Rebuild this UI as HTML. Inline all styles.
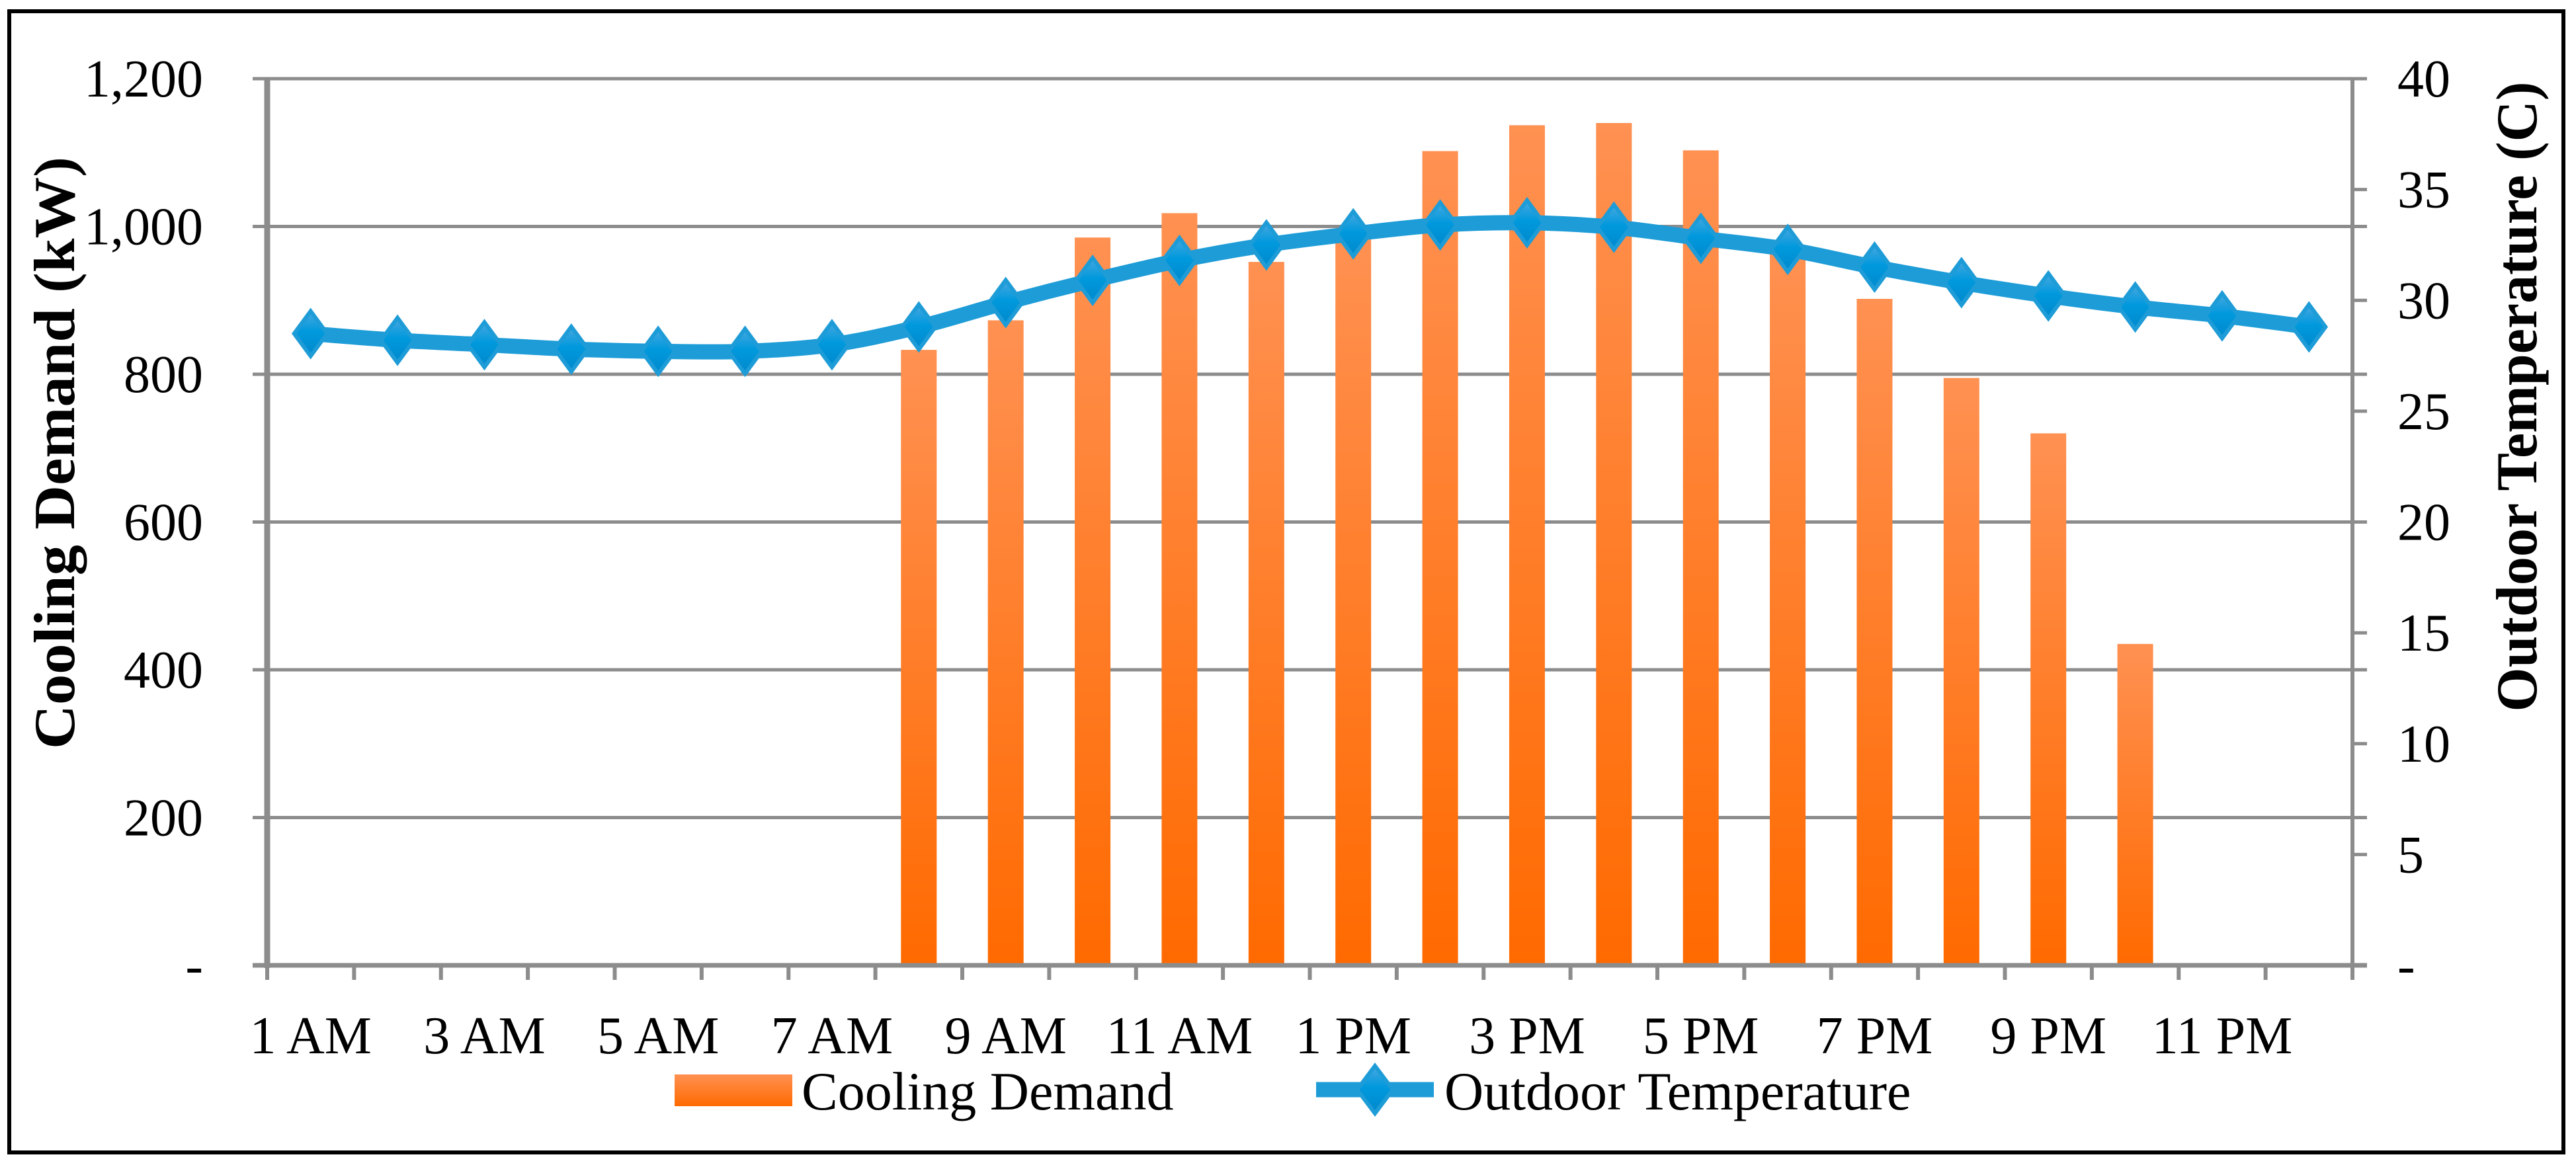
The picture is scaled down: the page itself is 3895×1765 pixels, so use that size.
<!DOCTYPE html>
<html><head><meta charset="utf-8">
<style>
html,body{margin:0;padding:0;background:#fff;}
svg{display:block;font-family:"Liberation Serif",serif;}
</style></head>
<body>
<svg id="chart" width="3895" height="1765" viewBox="0 0 3895 1765" xmlns="http://www.w3.org/2000/svg">
<defs>
<linearGradient id="barGrad" x1="0" y1="0" x2="0" y2="1">
<stop offset="0" stop-color="#ff9152"/><stop offset="1" stop-color="#ff6a00"/>
</linearGradient>
<linearGradient id="diaGrad" x1="0" y1="0" x2="0" y2="1">
<stop offset="0" stop-color="#4aa8e0"/><stop offset="0.45" stop-color="#0099dd"/><stop offset="1" stop-color="#0088cc"/>
</linearGradient>
</defs>
<rect x="14" y="17" width="3862" height="1726" fill="none" stroke="#000" stroke-width="6"/>
<g id="grid"></g>
<g id="bars"></g>
<g id="axes"></g>
<g id="line"></g>
<g id="labels"></g>
<text transform="translate(112,685) rotate(-90)" text-anchor="middle" font-size="88" font-weight="bold" textLength="896" lengthAdjust="spacingAndGlyphs">Cooling Demand (kW)</text>
<text transform="translate(3835,600) rotate(-90)" text-anchor="middle" font-size="88" font-weight="bold" textLength="953" lengthAdjust="spacingAndGlyphs">Outdoor Temperature (C)</text>
<g>
<rect x="1020" y="1625" width="178" height="48" fill="url(#barGrad)"/>
<text x="1212" y="1678" font-size="82">Cooling Demand</text>
<line x1="1990" y1="1648" x2="2168" y2="1648" stroke="#1e9cd7" stroke-width="23"/>
<path d="M2079 1612 L2106 1648 L2079 1684 L2052 1648 Z" fill="url(#diaGrad)" stroke="#1e9cd7" stroke-width="6"/>
<text x="2184" y="1678" font-size="82">Outdoor Temperature</text>
</g>
</svg>
<script>
const categories = ["1 AM","2 AM","3 AM","4 AM","5 AM","6 AM","7 AM","8 AM","9 AM","10 AM","11 AM","12 PM","1 PM","2 PM","3 PM","4 PM","5 PM","6 PM","7 PM","8 PM","9 PM","10 PM","11 PM","12 AM"];
const coolingDemand = [0,0,0,0,0,0,0,833,873,985,1018,952,990,1102,1137,1140,1103,975,902,795,720,435,0,0];
const outdoorTemp = [28.5,28.2,28.0,27.8,27.7,27.7,28.0,28.8,29.9,30.9,31.8,32.5,33.0,33.4,33.5,33.3,32.8,32.3,31.5,30.8,30.2,29.7,29.3,28.8];
const leftTicks = [0,200,400,600,800,1000,1200];
const leftTickLabels = ["-","200","400","600","800","1,000","1,200"];
const rightTicks = [0,5,10,15,20,25,30,35,40];
const rightTickLabels = ["-","5","10","15","20","25","30","35","40"];
const xLabelEvery = 2;

const NS="http://www.w3.org/2000/svg";
const L=404,R=3557,T=119,B=1460;
const bw=(R-L)/categories.length;
const xC=i=>L+(i+0.5)*bw;
const yL=v=>B-(v/1200)*(B-T);
const yR=v=>B-(v/40)*(B-T);
function mk(tag,attrs,parent){const e=document.createElementNS(NS,tag);for(const k in attrs)e.setAttribute(k,attrs[k]);parent.appendChild(e);return e;}
const grid=document.getElementById('grid'),bars=document.getElementById('bars'),axes=document.getElementById('axes'),line=document.getElementById('line'),labels=document.getElementById('labels');

leftTicks.forEach((v,i)=>{
  const g=mk('line',{x1:L-22,x2:R+22,y1:yL(v),y2:yL(v),stroke:'#8c8c8c','stroke-width':5},grid);
  
  
  const t=mk('text',{x:307,y:yL(v)+27,'text-anchor':'end','font-size':80},labels);
  
  
  t.textContent=leftTickLabels[i];
});
rightTicks.forEach((v,i)=>{
  const t=mk('text',{x:3625,y:yR(v)+27,'text-anchor':'start','font-size':80},labels);
  
  
  t.textContent=rightTickLabels[i];
  const tk=mk('line',{x1:R,x2:R+22,y1:yR(v),y2:yR(v),stroke:'#8c8c8c','stroke-width':5},axes);
  
  
});
coolingDemand.forEach((v,i)=>{
  if(v<=0)return;
  const r=mk('rect',{x:xC(i)-27,y:yL(v),width:54,height:B-yL(v),fill:'url(#barGrad)'},bars);
  
  
});
const ax=mk('line',{x1:L,x2:L,y1:T,y2:B+4,stroke:'#8c8c8c','stroke-width':9},axes);


const ax2=mk('line',{x1:R,x2:R,y1:T,y2:B+22,stroke:'#8c8c8c','stroke-width':6},axes);


const xa=mk('line',{x1:L-22,x2:R+22,y1:B,y2:B,stroke:'#8c8c8c','stroke-width':7},axes);


for(let i=0;i<=categories.length;i++){
  const tk=mk('line',{x1:L+i*bw,x2:L+i*bw,y1:B,y2:B+22,stroke:'#8c8c8c','stroke-width':6},axes);
  
  
}
categories.forEach((c,i)=>{
  if(i%xLabelEvery!==0)return;
  const t=mk('text',{x:xC(i),y:1593,'text-anchor':'middle','font-size':80},labels);
  
  
  t.textContent=c;
});
const pts=outdoorTemp.map((v,i)=>[xC(i),yR(v)]);
let d='M'+pts[0][0]+' '+pts[0][1];
for(let i=0;i<pts.length-1;i++){
  const p0=pts[Math.max(0,i-1)],p1=pts[i],p2=pts[i+1],p3=pts[Math.min(pts.length-1,i+2)];
  const c1=[p1[0]+(p2[0]-p0[0])/6,p1[1]+(p2[1]-p0[1])/6];
  const c2=[p2[0]-(p3[0]-p1[0])/6,p2[1]-(p3[1]-p1[1])/6];
  d+=' C'+c1[0]+' '+c1[1]+' '+c2[0]+' '+c2[1]+' '+p2[0]+' '+p2[1];
}
const pl=mk('path',{d:d,fill:'none',stroke:'#1e9cd7','stroke-width':23,'stroke-linejoin':'round'},line);


pts.forEach((p,i)=>{
  const m=mk('path',{d:`M${p[0]} ${p[1]-34} L${p[0]+25} ${p[1]} L${p[0]} ${p[1]+34} L${p[0]-25} ${p[1]} Z`,fill:'url(#diaGrad)',stroke:'#1e9cd7','stroke-width':6},line);
  
  
});
</script>
</body></html>
